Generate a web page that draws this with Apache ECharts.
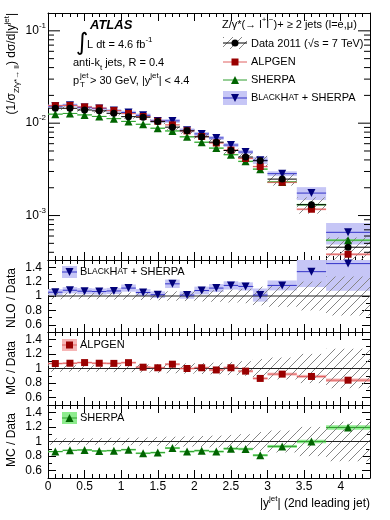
<!DOCTYPE html>
<html>
<head>
<meta charset="utf-8">
<script src="https://cdn.jsdelivr.net/npm/echarts@6.0.0/dist/echarts.min.js"></script>
<style>
html, body { margin: 0; padding: 0; background: #fff; }
#chart { width: 390px; height: 520px; }
</style>
</head>
<body>
<div id="chart"></div>
<script>
// bins in |y| of the 2nd leading jet
const binLo = [0, 0.2, 0.4, 0.6, 0.8, 1.0, 1.2, 1.4, 1.6, 1.8, 2.0, 2.2, 2.4, 2.6, 2.8, 3.0, 3.4, 3.8];
const binHi = [0.2, 0.4, 0.6, 0.8, 1.0, 1.2, 1.4, 1.6, 1.8, 2.0, 2.2, 2.4, 2.6, 2.8, 3.0, 3.4, 3.8, 4.4];
const binMid = [0.1, 0.3, 0.5, 0.7, 0.9, 1.1, 1.3, 1.5, 1.7, 1.9, 2.1, 2.3, 2.5, 2.7, 2.9, 3.2, 3.6, 4.1];

// normalised cross section, upper panel
const dataVal = [0.01452, 0.0145, 0.0139, 0.0136, 0.0128, 0.01177, 0.0116, 0.0104, 0.00906, 0.00826, 0.00711, 0.00623, 0.00506, 0.0043, 0.00392, 0.00248, 0.00131, 0.000454];
const alpgenVal = [0.0155, 0.01554, 0.01503, 0.01458, 0.0137, 0.01271, 0.01181, 0.0105, 0.00959, 0.00826, 0.00718, 0.00611, 0.00511, 0.00415, 0.00339, 0.00229, 0.00117, 0.000381];
const sherpaVal = [0.01252, 0.01275, 0.01229, 0.01183, 0.0112, 0.01045, 0.00973, 0.00882, 0.00824, 0.00712, 0.00622, 0.00537, 0.00456, 0.00386, 0.00318, 0.00231, 0.00131, 0.000541];
const blackhatVal = [0.01529, 0.01566, 0.01483, 0.01444, 0.0137, 0.01306, 0.01217, 0.01059, 0.01059, 0.00837, 0.00765, 0.00692, 0.0058, 0.00487, 0.00397, 0.00284, 0.00175, 0.000658];

// relative uncertainties (bands)
const dataErr = [0.045, 0.045, 0.045, 0.045, 0.05, 0.05, 0.055, 0.06, 0.065, 0.07, 0.075, 0.08, 0.09, 0.1, 0.13, 0.15, 0.2, 0.27];
const alpgenErr = [0.012, 0.012, 0.012, 0.013, 0.013, 0.013, 0.014, 0.014, 0.015, 0.015, 0.016, 0.017, 0.018, 0.02, 0.02, 0.022, 0.025, 0.028];
const sherpaErr = [0.012, 0.012, 0.013, 0.013, 0.013, 0.014, 0.014, 0.015, 0.015, 0.016, 0.016, 0.017, 0.018, 0.019, 0.02, 0.022, 0.024, 0.026];
const blackhatErr = [0.04, 0.04, 0.04, 0.04, 0.04, 0.045, 0.045, 0.045, 0.05, 0.05, 0.05, 0.05, 0.05, 0.05, 0.09, 0.06, 0.16, 0.26];

// ratios to data, lower panels
const blackhatRatio = [1.053, 1.08, 1.067, 1.062, 1.07, 1.11, 1.049, 1.018, 1.169, 1.013, 1.076, 1.11, 1.147, 1.133, 1.013, 1.147, 1.338, 1.45];
const alpgenRatio = [1.068, 1.072, 1.081, 1.072, 1.07, 1.08, 1.018, 1.01, 1.059, 1.0, 1.01, 0.98, 1.01, 0.964, 0.864, 0.923, 0.891, 0.84];
const sherpaRatio = [0.862, 0.879, 0.884, 0.87, 0.875, 0.888, 0.839, 0.848, 0.91, 0.862, 0.875, 0.862, 0.902, 0.897, 0.812, 0.933, 1.0, 1.192];

// ticks
const xMajor = [0, 0.5, 1, 1.5, 2, 2.5, 3, 3.5, 4];
const logMajor = [0.001, 0.01, 0.1];
const logMinor = [0.0004, 0.0005, 0.0006, 0.0007, 0.0008, 0.0009, 0.002, 0.003, 0.004, 0.005, 0.006, 0.007, 0.008, 0.009, 0.02, 0.03, 0.04, 0.05, 0.06, 0.07, 0.08, 0.09];
const ratioMajor = [0.6, 0.8, 1, 1.2, 1.4];

const FONT = "'Liberation Sans', Arial, sans-serif";
const alpgenColor = '#990000', alpgenLine = '#e06060', alpgenBand = '#f6b6b6';
const sherpaColor = '#006400', sherpaLine = '#2e9e2e', sherpaBand = '#8eec8e';
const bhColor = '#00007a', bhLine = '#3232c8', bhBand = '#c6c6f6';

// hatch pattern for the data uncertainty
const hatchCanvas = document.createElement('canvas');
hatchCanvas.width = 9; hatchCanvas.height = 9;
(function () {
    const c = hatchCanvas.getContext('2d');
    c.strokeStyle = '#858585';
    c.lineWidth = 1;
    c.beginPath();
    c.moveTo(0, 9); c.lineTo(9, 0);
    c.moveTo(-2, 2); c.lineTo(2, -2);
    c.moveTo(7, 11); c.lineTo(11, 7);
    c.stroke();
})();
const hatch = {image: hatchCanvas, repeat: 'repeat'};

const chart = echarts.init(document.getElementById('chart'));

// panels: main, NLO/data, ALPGEN/data, SHERPA/data
const panels = [[13, 247], [260, 72], [332, 73], [405, 73]];
const grids = panels.map(p => ({left: 48, right: 20, top: p[0], height: p[1], outerBoundsMode: 'none'}));

const richText = {
    b: {fontSize: 12, fontFamily: FONT, lineHeight: 18},
    sup: {fontSize: 8, fontFamily: FONT, lineHeight: 10, verticalAlign: 'top'},
    sub: {fontSize: 8, fontFamily: FONT, lineHeight: 10, verticalAlign: 'bottom'},
    sc: {fontSize: 8.5, fontFamily: FONT}
};

const xAxes = [];
const yAxes = [];
panels.forEach((p, g) => {
    ['bottom', 'top'].forEach(pos => {
        xAxes.push({
            type: 'value', gridIndex: g, position: pos, min: 0, max: 4.4, interval: 0.1,
            axisLine: {show: true, onZero: false, lineStyle: {color: '#000', width: 1}},
            axisTick: {show: true, inside: true, length: 4, lineStyle: {color: '#000'}},
            axisLabel: {show: false}, splitLine: {show: false}
        });
        xAxes.push({
            type: 'value', gridIndex: g, position: pos, min: 0, max: 4.4,
            axisLine: {show: false, onZero: false},
            axisTick: {show: true, inside: true, length: 8, customValues: xMajor, lineStyle: {color: '#000'}},
            axisLabel: {
                show: g === 3 && pos === 'bottom', customValues: xMajor, margin: 3,
                color: '#000', fontSize: 12, fontFamily: FONT
            },
            splitLine: {show: false}
        });
    });
    if (g === 0) {
        ['left', 'right'].forEach(pos => {
            yAxes.push({
                type: 'log', logBase: 10, gridIndex: 0, position: pos, min: 0.00033, max: 0.156,
                axisLine: {show: true, onZero: false, lineStyle: {color: '#000', width: 1}},
                axisTick: {show: false},
                axisLabel: {
                    show: pos === 'left', margin: 2, showMinLabel: false, showMaxLabel: false,
                    formatter: v => {
                        const e = Math.log10(v);
                        if (Math.abs(e - Math.round(e)) > 1e-6) return '';
                        return '{b|10}{sup|' + Math.round(e) + '}';
                    },
                    rich: richText, color: '#000'
                },
                splitLine: {show: false}
            });
            yAxes.push({type: 'log', gridIndex: 0, position: pos, min: 0.00033, max: 0.156, show: false});
        });
    } else {
        ['left', 'right'].forEach(pos => {
            yAxes.push({
                type: 'value', gridIndex: g, position: pos, min: 0.5, max: 1.5, interval: 0.1,
                axisLine: {show: true, onZero: false, lineStyle: {color: '#000', width: 1}},
                axisTick: {show: true, inside: true, length: 4, lineStyle: {color: '#000'}},
                axisLabel: {show: false}, splitLine: {show: false}
            });
            yAxes.push({
                type: 'value', gridIndex: g, position: pos, min: 0.5, max: 1.5,
                axisLine: {show: false, onZero: false},
                axisTick: {show: true, inside: true, length: 8, customValues: ratioMajor, lineStyle: {color: '#000'}},
                axisLabel: {
                    show: pos === 'left', customValues: ratioMajor, margin: 6,
                    color: '#000', fontSize: 12, fontFamily: FONT
                },
                splitLine: {show: false}
            });
        });
    }
});

// shaded box per bin between lo and hi
const band = (g, lo, hi, fill, z) => ({
    type: 'custom', xAxisIndex: g * 4, yAxisIndex: g * 4, z: z, silent: true,
    encode: {x: [0, 1], y: [2, 3]},
    data: binLo.map((x, i) => [x, binHi[i], lo[i], hi[i]]),
    renderItem: (params, api) => {
        const a = api.coord([api.value(0), api.value(3)]);
        const b = api.coord([api.value(1), api.value(2)]);
        const cs = params.coordSys;
        const shape = echarts.graphic.clipRectByRect(
            {x: a[0], y: a[1], width: b[0] - a[0], height: b[1] - a[1]},
            {x: cs.x, y: cs.y, width: cs.width, height: cs.height});
        return shape ? {type: 'rect', shape: shape, style: {fill: fill}} : null;
    }
});

// horizontal bar across each bin
const hline = (g, xlo, xhi, vals, color, width, z) => ({
    type: 'custom', xAxisIndex: g * 4, yAxisIndex: g * 4, z: z, silent: true,
    encode: {x: [0, 1], y: 2},
    data: xlo.map((x, i) => [x, xhi[i], vals[i]]),
    renderItem: (params, api) => {
        const a = api.coord([api.value(0), api.value(2)]);
        const b = api.coord([api.value(1), api.value(2)]);
        const cs = params.coordSys;
        if (a[1] < cs.y - 0.5 || a[1] > cs.y + cs.height + 0.5) return null;
        return {type: 'line', shape: {x1: a[0], y1: a[1], x2: b[0], y2: b[1]}, style: {stroke: color, lineWidth: width}};
    }
});

const marks = (g, vals, symbol, size, color, z, rotate) => ({
    type: 'scatter', xAxisIndex: g * 4, yAxisIndex: g * 4, z: z, silent: true,
    symbol: symbol, symbolSize: size, symbolRotate: rotate || 0,
    itemStyle: {color: color, opacity: 1},
    data: binMid.map((x, i) => [x, vals[i]])
});

// log-axis ticks on both edges of the main panel
const logTicks = (vals, len) => ({
    type: 'custom', xAxisIndex: 0, yAxisIndex: 0, z: 10, silent: true,
    encode: {y: 0},
    data: vals.map(v => [v]),
    renderItem: (params, api) => {
        const cs = params.coordSys;
        const y = api.coord([0, api.value(0)])[1];
        return {type: 'group', children: [
            {type: 'line', shape: {x1: cs.x, y1: y, x2: cs.x + len, y2: y}, style: {stroke: '#000', lineWidth: 1}},
            {type: 'line', shape: {x1: cs.x + cs.width, y1: y, x2: cs.x + cs.width - len, y2: y}, style: {stroke: '#000', lineWidth: 1}}
        ]};
    }
});

const lo = (v, e) => v.map((x, i) => x * (1 - e[i]));
const hi = (v, e) => v.map((x, i) => x * (1 + e[i]));
const ones = binMid.map(() => 1);

const series = [
    // main panel
    band(0, lo(blackhatVal, blackhatErr), hi(blackhatVal, blackhatErr), bhBand, 1),
    band(0, lo(alpgenVal, alpgenErr), hi(alpgenVal, alpgenErr), alpgenBand, 1),
    band(0, lo(sherpaVal, sherpaErr), hi(sherpaVal, sherpaErr), sherpaBand, 1),
    band(0, lo(dataVal, dataErr), hi(dataVal, dataErr), hatch, 2),
    hline(0, binLo, binHi, blackhatVal, bhLine, 1, 3),
    hline(0, binLo, binHi, sherpaVal, sherpaLine, 1, 3),
    hline(0, binLo, binHi, alpgenVal, alpgenLine, 1, 3),
    hline(0, binLo, binHi, dataVal, '#000', 1, 3),
    marks(0, blackhatVal, 'triangle', 8, bhColor, 4, 180),
    marks(0, sherpaVal, 'triangle', 8, sherpaColor, 4),
    marks(0, alpgenVal, 'rect', 7, alpgenColor, 4),
    marks(0, dataVal, 'circle', 7, '#000', 5),
    logTicks(logMajor, 12),
    logTicks(logMinor, 6),

    // NLO / data
    band(1, lo(blackhatRatio, blackhatErr), hi(blackhatRatio, blackhatErr), bhBand, 1),
    band(1, lo(ones, dataErr), hi(ones, dataErr), hatch, 2),
    hline(1, [0], [4.4], [1], '#222', 1.2, 3),
    hline(1, binLo, binHi, blackhatRatio, bhLine, 1, 3),
    marks(1, blackhatRatio, 'triangle', 8, bhColor, 4, 180),

    // ALPGEN / data
    band(2, lo(alpgenRatio, alpgenErr), hi(alpgenRatio, alpgenErr), alpgenBand, 1),
    band(2, lo(ones, dataErr), hi(ones, dataErr), hatch, 2),
    hline(2, [0], [4.4], [1], '#222', 1.2, 3),
    hline(2, binLo, binHi, alpgenRatio, alpgenLine, 1, 3),
    marks(2, alpgenRatio, 'rect', 7, alpgenColor, 4),

    // SHERPA / data
    band(3, lo(sherpaRatio, sherpaErr), hi(sherpaRatio, sherpaErr), sherpaBand, 1),
    band(3, lo(ones, dataErr), hi(ones, dataErr), hatch, 2),
    hline(3, [0], [4.4], [1], '#222', 1.2, 3),
    hline(3, binLo, binHi, sherpaRatio, sherpaLine, 1, 3),
    marks(3, sherpaRatio, 'triangle', 8, sherpaColor, 4)
];

// text and legend helpers
const txt = (x, y, text, extra) => ({
    type: 'text', x: x, y: y, z: 100, silent: true,
    style: Object.assign({
        text: text, fontFamily: FONT, fontSize: 11, fill: '#000',
        align: 'left', verticalAlign: 'middle', lineHeight: 18, rich: richText
    }, extra || {})
});
const seg = (x1, y1, x2, y2, color) => ({type: 'line', z: 100, silent: true, shape: {x1, y1, x2, y2}, style: {stroke: color, lineWidth: 1}});
const box = (x, y, w, h, fill) => ({type: 'rect', z: 99, silent: true, shape: {x, y, width: w, height: h}, style: {fill: fill}});
const triUp = (cx, cy, s, fill) => ({type: 'polygon', z: 101, silent: true,
    shape: {points: [[cx, cy - s / 2], [cx + s / 2, cy + s / 2], [cx - s / 2, cy + s / 2]]}, style: {fill: fill}});
const triDown = (cx, cy, s, fill) => ({type: 'polygon', z: 101, silent: true,
    shape: {points: [[cx, cy + s / 2], [cx + s / 2, cy - s / 2], [cx - s / 2, cy - s / 2]]}, style: {fill: fill}});
const square = (cx, cy, s, fill) => ({type: 'rect', z: 101, silent: true, shape: {x: cx - s / 2, y: cy - s / 2, width: s, height: s}, style: {fill: fill}});

const graphic = [
    // ATLAS block
    txt(90, 25, 'ATLAS', {fontSize: 13, fontWeight: 'bold', fontStyle: 'italic'}),
    txt(76, 44, '∫', {fontSize: 24, fontFamily: "'DejaVu Sans', sans-serif"}),
    txt(87, 45, 'L dt = 4.6 fb{sup|-1}'),
    txt(73, 63, 'anti-k{sub|t} jets, R = 0.4'),
    txt(73, 81, 'p'),
    txt(80, 76, 'jet', {fontSize: 8}),
    txt(80, 85, 'T', {fontSize: 8}),
    txt(90, 81, '> 30 GeV, |y{sup|jet}| < 4.4'),

    // main legend
    txt(222, 25, 'Z/γ*(→ l{sup|+}l{sup|−})+ ≥ 2 jets (l=e,μ)'),
    box(223, 37, 24, 12, hatch),
    seg(223, 43, 247, 43, '#000'),
    {type: 'circle', z: 101, silent: true, shape: {cx: 235, cy: 43, r: 3.5}, style: {fill: '#000'}},
    txt(251, 44, 'Data 2011 (√s = 7 TeV)'),
    seg(223, 62, 247, 62, alpgenLine),
    square(235, 62, 7, alpgenColor),
    txt(251, 62, 'ALPGEN'),
    seg(223, 80, 247, 80, sherpaLine),
    triUp(235, 80, 8, sherpaColor),
    txt(251, 80, 'SHERPA'),
    box(223, 91, 24, 14, bhBand),
    seg(223, 98, 247, 98, bhLine),
    triDown(235, 98, 8, bhColor),
    txt(251, 98, 'B{sc|LACK}H{sc|AT} + SHERPA'),

    // ratio legends
    box(62, 266, 15, 12, bhBand),
    seg(62, 272, 77, 272, bhLine),
    triDown(69.5, 272, 8, bhColor),
    txt(80, 272, 'B{sc|LACK}H{sc|AT} + SHERPA'),
    box(62, 339, 15, 12, alpgenBand),
    seg(62, 345, 77, 345, alpgenLine),
    square(69.5, 345, 7, alpgenColor),
    txt(80, 345, 'ALPGEN'),
    box(62, 412, 15, 12, sherpaBand),
    seg(62, 418, 77, 418, sherpaLine),
    triUp(69.5, 418, 8, sherpaColor),
    txt(80, 418, 'SHERPA'),

    // axis titles
    Object.assign(txt(12, 13, '(1/σ{sub|Z/γ*→ ll}) dσ/d|y{sup|jet}|', {fontSize: 12, align: 'right'}), {rotation: Math.PI / 2}),
    Object.assign(txt(12, 298, 'NLO / Data', {fontSize: 12, align: 'center'}), {rotation: Math.PI / 2}),
    Object.assign(txt(12, 368, 'MC / Data', {fontSize: 12, align: 'center'}), {rotation: Math.PI / 2}),
    Object.assign(txt(12, 440, 'MC / Data', {fontSize: 12, align: 'center'}), {rotation: Math.PI / 2}),
    txt(370, 504, '|y{sup|jet}| (2nd leading jet)', {fontSize: 12, align: 'right'})
];

chart.setOption({
    animation: false,
    backgroundColor: '#fff',
    grid: grids,
    xAxis: xAxes,
    yAxis: yAxes,
    series: series,
    graphic: graphic
});
</script>
</body>
</html>
